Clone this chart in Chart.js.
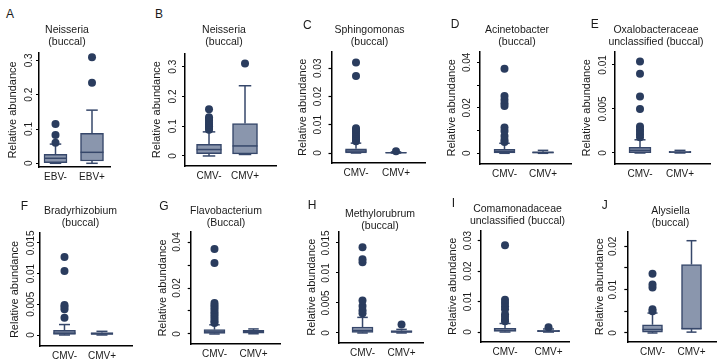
<!DOCTYPE html>
<html>
<head>
<meta charset="utf-8">
<script src="https://cdn.jsdelivr.net/npm/chart.js@4.4.1/dist/chart.umd.min.js"></script>
<style>
  html, body { margin: 0; padding: 0; background: #fff; overflow: hidden; width: 720px; height: 363px; position: relative; }
  canvas { position: absolute; }
  .tag { position: absolute; font: 12px "Liberation Sans", Arial, sans-serif; line-height: 12px; color: #1a1a1a; }
</style>
</head>
<body>
<script>
// ---- data ----
const groupsEBV = ['EBV-', 'EBV+'];
const groupsCMV = ['CMV-', 'CMV+'];
const yTitle = 'Relative abundance';

// box stats per group: [min, q1, median, q3, max]
const titleA = ['Neisseria', '(buccal)'];
const boxA = [[0, 0.002, 0.0146, 0.026, 0.056], [0, 0.0067, 0.032, 0.0875, 0.155]];
const outA = [[0.06, 0.0825, 0.1146], [0.235, 0.309]];
const ticksA = [0, 0.1, 0.2, 0.3];
const tickLabelsA = ['0', '0.1', '0.2', '0.3'];

const titleB = ['Neisseria', '(buccal)'];
const boxB = [[0, 0.008, 0.0216, 0.0394, 0.081], [0.005, 0.007, 0.0337, 0.109, 0.236]];
const outB = [[0.088, 0.094, 0.1, 0.106, 0.112, 0.118, 0.124, 0.13, 0.157], [0.311]];
const ticksB = [0, 0.1, 0.2, 0.3];
const tickLabelsB = ['0', '0.1', '0.2', '0.3'];

const titleC = ['Sphingomonas', '(buccal)'];
const boxC = [[0, 0.00005, 0.0007, 0.0015, 0.0035], [0, 0.00003, 0.0001, 0.0002, 0.0004]];
const outC = [[0.0042, 0.0048, 0.0054, 0.006, 0.0068, 0.0075, 0.0082, 0.0088, 0.0273, 0.032], [0.0006]];
const ticksC = [0, 0.01, 0.02, 0.03];
const tickLabelsC = ['0', '0.01', '0.02', '0.03'];

const titleD = ['Acinetobacter', '(buccal)'];
const boxD = [[0, 0.0002, 0.0008, 0.0018, 0.0044], [0, 0.0001, 0.0004, 0.0007, 0.0013]];
const outD = [[0.005, 0.006, 0.0076, 0.0098, 0.0113, 0.0208, 0.022, 0.0235, 0.0252, 0.0372], []];
const ticksD = [0, 0.01, 0.02, 0.03, 0.04];
const tickLabelsD = ['0', '', '0.02', '', '0.04'];

const titleE = ['Oxalobacteraceae', 'unclassified (buccal)'];
const boxE = [[0, 0.00003, 0.0003, 0.00064, 0.0015], [0, 0.00005, 0.0001, 0.0002, 0.0003]];
const outE = [[0.0018, 0.0021, 0.0024, 0.0027, 0.003, 0.005, 0.0064, 0.009, 0.0104], []];
const ticksE = [0, 0.005, 0.01];
const tickLabelsE = ['0', '0.005', '0.01'];

const titleF = ['Bradyrhizobium', '(buccal)'];
const boxF = [[0, 0.0001, 0.0003, 0.00075, 0.0017], [0, 0.0001, 0.0002, 0.0004, 0.0006]];
const outF = [[0.0028, 0.0042, 0.0046, 0.0049, 0.0104, 0.0127], []];
const ticksF = [0, 0.005, 0.01, 0.015];
const tickLabelsF = ['0', '0.005', '0.01', '0.015'];

const titleG = ['Flavobacterium', '(Buccal)'];
const boxG = [[0, 0.0002, 0.0009, 0.0019, 0.004], [0.0001, 0.0004, 0.001, 0.0016, 0.0022]];
const outG = [[0.0048, 0.0055, 0.0065, 0.0075, 0.0085, 0.0095, 0.0105, 0.0115, 0.0125, 0.0135, 0.0309, 0.037], []];
const ticksG = [0, 0.01, 0.02, 0.03, 0.04];
const tickLabelsG = ['0', '', '0.02', '', '0.04'];

const titleH = ['Methylorubrum', '(buccal)'];
const boxH = [[0, 0.0001, 0.0004, 0.001, 0.0026], [0, 0.0001, 0.0002, 0.0004, 0.0006]];
const outH = [[0.0033, 0.0038, 0.0045, 0.0054, 0.0118, 0.0123, 0.0143], [0.0014]];
const ticksH = [0, 0.005, 0.01, 0.015];
const tickLabelsH = ['0', '0.005', '0.01', '0.015'];

const titleI = ['Comamonadaceae', 'unclassified (buccal)'];
const boxI = [[0, 0.0002, 0.0006, 0.0012, 0.0028], [0, 0.0001, 0.0003, 0.0006, 0.001]];
const outI = [[0.0035, 0.004, 0.005, 0.0058, 0.0075, 0.0085, 0.0095, 0.0106, 0.0285], [0.0016]];
const ticksI = [0, 0.01, 0.02, 0.03];
const tickLabelsI = ['0', '0.01', '0.02', '0.03'];

const titleJ = ['Alysiella', '(buccal)'];
const boxJ = [[0, 0.0002, 0.0008, 0.0019, 0.0046], [0.0002, 0.0009, 0.001, 0.0158, 0.0213]];
const outJ = [[0.005, 0.0055, 0.0105, 0.0112, 0.0137], []];
const ticksJ = [0, 0.005, 0.01, 0.015, 0.02];
const tickLabelsJ = ['0', '', '0.01', '', '0.02'];

const panels = [
  { id: 'A', title: titleA, groups: groupsEBV, box: boxA, out: outA, ticks: ticksA, labels: tickLabelsA },
  { id: 'B', title: titleB, groups: groupsCMV, box: boxB, out: outB, ticks: ticksB, labels: tickLabelsB },
  { id: 'C', title: titleC, groups: groupsCMV, box: boxC, out: outC, ticks: ticksC, labels: tickLabelsC },
  { id: 'D', title: titleD, groups: groupsCMV, box: boxD, out: outD, ticks: ticksD, labels: tickLabelsD },
  { id: 'E', title: titleE, groups: groupsCMV, box: boxE, out: outE, ticks: ticksE, labels: tickLabelsE },
  { id: 'F', title: titleF, groups: groupsCMV, box: boxF, out: outF, ticks: ticksF, labels: tickLabelsF },
  { id: 'G', title: titleG, groups: groupsCMV, box: boxG, out: outG, ticks: ticksG, labels: tickLabelsG },
  { id: 'H', title: titleH, groups: groupsCMV, box: boxH, out: outH, ticks: ticksH, labels: tickLabelsH },
  { id: 'I', title: titleI, groups: groupsCMV, box: boxI, out: outI, ticks: ticksI, labels: tickLabelsI },
  { id: 'J', title: titleJ, groups: groupsCMV, box: boxJ, out: outJ, ticks: ticksJ, labels: tickLabelsJ },
];

// ---- page layout of each panel (px) ----
const frames = {
  A: { yTitleX: 12.5, tickX: 29.5, axisX: 39, right: 110, top: 53, bottom: 167, titleX: 67, titleY: 30.5, xMin: 0.548, xMax: 2.493, yMin: -0.0108, yMax: 0.3216, barW: 23, tag: [6, 10] },
  B: { yTitleX: 156.7, tickX: 173.3, axisX: 185, right: 276, top: 53.3, bottom: 165.7, titleX: 224.2, titleY: 30, xMin: 0.333, xMax: 2.861, yMin: -0.0337, yMax: 0.345, barW: 25, tag: [155, 10] },
  C: { yTitleX: 303.3, tickX: 318.3, axisX: 331.5, right: 425, top: 51.7, bottom: 163.3, titleX: 369.5, titleY: 30.5, xMin: 0.3875, xMax: 2.725, yMin: -0.00353, yMax: 0.03586, barW: 21, tag: [303, 20.7] },
  D: { yTitleX: 451.7, tickX: 467.7, axisX: 480, right: 571.7, top: 51.7, bottom: 164, titleX: 517, titleY: 30.5, xMin: 0.364, xMax: 2.745, yMin: -0.0047, yMax: 0.04466, barW: 21, tag: [450.7, 20] },
  E: { yTitleX: 587.3, tickX: 603.3, axisX: 615, right: 710, top: 51.7, bottom: 164.3, titleX: 656, titleY: 30, xMin: 0.375, xMax: 2.75, yMin: -0.00125, yMax: 0.0115, barW: 22, tag: [590.7, 20] },
  F: { yTitleX: 15, tickX: 31.7, axisX: 40, right: 132.7, top: 233, bottom: 346.3, titleX: 80.3, titleY: 211.3, xMin: 0.347, xMax: 2.82, yMin: -0.00179, yMax: 0.0166, barW: 22, tag: [20.7, 201.3] },
  G: { yTitleX: 163.3, tickX: 177.7, axisX: 190.7, right: 280, top: 232, bottom: 344, titleX: 225.8, titleY: 211.5, xMin: 0.39, xMax: 2.68, yMin: -0.00435, yMax: 0.04435, barW: 21, tag: [159.3, 201.3] },
  H: { yTitleX: 311.7, tickX: 326.7, axisX: 339, right: 423.3, top: 231.3, bottom: 343, titleX: 380, titleY: 214, xMin: 0.397, xMax: 2.558, yMin: -0.00167, yMax: 0.01695, barW: 21, tag: [307.7, 200.7] },
  I: { yTitleX: 453.3, tickX: 468.3, axisX: 480.7, right: 569.3, top: 230.7, bottom: 342.3, titleX: 517.7, titleY: 209.2, xMin: 0.441, xMax: 2.478, yMin: -0.00327, yMax: 0.03326, barW: 22, tag: [451.7, 198.7] },
  J: { yTitleX: 600, tickX: 613.3, axisX: 627.3, right: 716.7, top: 231.3, bottom: 342, titleX: 670.3, titleY: 210.8, xMin: 0.354, xMax: 2.646, yMin: -0.00208, yMax: 0.02347, barW: 20, tag: [601.7, 200.7] },
};

const FONT = '"Liberation Sans", Arial, sans-serif';
const INK = '#1a1a1a';
const FILL = '#8a96ad';
const EDGE = '#36476a';
const DOT = '#2a3c5e';

const measure = document.createElement('canvas').getContext('2d');
function widest(labels, size) {
  measure.font = size + 'px ' + FONT;
  return Math.max(...labels.map(s => measure.measureText(s).width));
}

// median line, whiskers and caps, drawn right after the boxes
const whiskers = {
  id: 'whiskers',
  afterDatasetDraw(chart, args) {
    if (args.meta.type !== 'bar') return;
    const stats = chart.data.datasets[args.index].stats;
    const y = chart.scales.y;
    const ctx = chart.ctx;
    const seg = (x1, y1, x2, y2) => { ctx.beginPath(); ctx.moveTo(x1, y1); ctx.lineTo(x2, y2); ctx.stroke(); };
    ctx.save();
    ctx.strokeStyle = EDGE;
    ctx.lineWidth = 1.5;
    args.meta.data.forEach((bar, i) => {
      const [lo, q1, med, q3, hi] = stats[i];
      const half = bar.width / 2, cap = bar.width / 4;
      const pm = y.getPixelForValue(med);
      seg(bar.x - half, pm, bar.x + half, pm);
      [[q3, hi], [q1, lo]].forEach(([from, to]) => {
        if (from === to) return;
        const a = y.getPixelForValue(from), b = y.getPixelForValue(to);
        seg(bar.x, a, bar.x, b);
        seg(bar.x - cap, b, bar.x + cap, b);
      });
    });
    ctx.restore();
  }
};

function drawPanel(p) {
  const f = frames[p.id];
  const yLine = 11 * 1.2;
  const L = Math.floor(f.yTitleX - yLine / 2);
  const T = Math.floor(f.titleY - 6);
  const W = Math.round(2 * (f.titleX - L));
  const xh = 19;
  const H = Math.round(f.bottom - T + xh);

  const cv = document.createElement('canvas');
  cv.width = W; cv.height = H;
  cv.style.left = L + 'px'; cv.style.top = T + 'px';
  document.body.appendChild(cv);

  const tag = document.createElement('div');
  tag.className = 'tag';
  tag.textContent = p.id;
  tag.style.left = f.tag[0] + 'px';
  tag.style.top = (f.tag[1] - 1.6) + 'px';
  document.body.appendChild(tag);

  const tickLen = 3, tickFont = 10;
  const tickPad = (f.axisX - f.tickX) - tickLen - widest(p.labels, tickFont) / 2;
  const padTop = f.titleY - 6 - T;
  const padBottom = (f.top - T) - padTop - 24;

  new Chart(cv, {
    type: 'bar',
    data: {
      datasets: [
        {
          type: 'scatter', order: 1, clip: false,
          data: p.out.flatMap((vals, g) => vals.map(v => ({ x: g + 1, y: v }))),
          pointRadius: 4, pointBackgroundColor: DOT, pointBorderWidth: 0
        },
        {
          type: 'bar', order: 2, clip: false, stats: p.box,
          data: p.box.map((s, g) => ({ x: g + 1, y: [s[1], s[3]] })),
          backgroundColor: FILL, borderColor: EDGE, borderWidth: 1.5, borderSkipped: false,
          barThickness: f.barW
        }
      ]
    },
    options: {
      responsive: false, animation: false, events: [],
      layout: { padding: 0 },
      plugins: {
        legend: { display: false },
        tooltip: { enabled: false },
        title: {
          display: true, text: p.title, color: INK,
          font: { family: FONT, size: 10.5, weight: 'normal', lineHeight: 12 / 10.5 },
          padding: { top: padTop, bottom: padBottom }
        }
      },
      scales: {
        x: {
          type: 'linear', position: 'bottom', min: f.xMin, max: f.xMax, offset: false,
          grid: { display: false, drawTicks: false, tickLength: 0 },
          border: { display: true, color: '#000', width: 1.5 },
          ticks: {
            autoSkip: false, maxRotation: 0, padding: 4.5, color: INK,
            font: { family: FONT, size: 10 },
            callback: v => p.groups[v - 1] ?? ''
          },
          afterBuildTicks: s => { s.ticks = p.groups.map((_, g) => ({ value: g + 1 })); },
          afterFit: s => { s.height = xh; }
        },
        y: {
          type: 'linear', position: 'left', min: f.yMin, max: f.yMax,
          grid: { display: true, drawOnChartArea: false, drawTicks: true, tickLength: tickLen, color: '#000', tickColor: '#000', tickWidth: 1.2 },
          border: { display: true, color: '#000', width: 1.5 },
          ticks: {
            autoSkip: false, minRotation: 90, maxRotation: 90, crossAlign: 'center',
            padding: tickPad, color: INK, font: { family: FONT, size: tickFont },
            callback: (v, i) => p.labels[i]
          },
          title: {
            display: true, text: yTitle, color: INK,
            font: { family: FONT, size: 11 },
            padding: { top: f.yTitleX - yLine / 2 - L, bottom: 0 }
          },
          afterBuildTicks: s => { s.ticks = p.ticks.map(v => ({ value: v })); },
          afterFit: s => { s.width = f.axisX - L; }
        },
        spacer: {
          type: 'linear', position: 'right', display: true,
          grid: { display: false }, border: { display: false }, ticks: { display: false },
          afterFit: s => { s.width = L + W - f.right; }
        }
      }
    },
    plugins: [whiskers]
  });
}

panels.forEach(drawPanel);
</script>
</body>
</html>
